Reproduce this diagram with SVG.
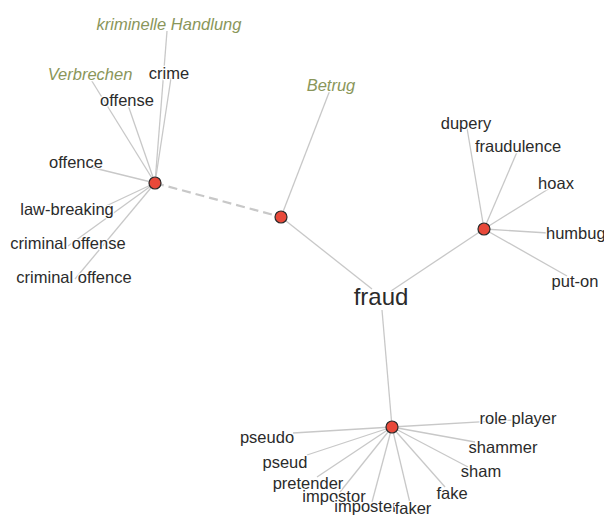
<svg xmlns="http://www.w3.org/2000/svg" width="604" height="516" viewBox="0 0 604 516">
<style>
.e{stroke:#c8c8c8;stroke-width:1.3;fill:none}
.d{stroke:#c8c8c8;stroke-width:2.2;stroke-dasharray:9,5;fill:none}
.n{fill:#e8493a;stroke:#2a2a2a;stroke-width:1.2}
text{font-family:"Liberation Sans",Arial,sans-serif;font-size:16.5px;fill:#2b2b2b;paint-order:stroke;stroke:#fff;stroke-width:2.5px;stroke-linejoin:round}
.de{fill:#8a965a;font-style:italic}
.c{text-anchor:middle}
.root{font-size:24px}
</style>
<rect width="604" height="516" fill="#fff"/>
<g id="edges">
<line class="e" x1="155" y1="183" x2="167" y2="31"/>
<line class="e" x1="155" y1="183" x2="171" y2="78"/>
<line class="e" x1="155" y1="183" x2="90" y2="78"/>
<line class="e" x1="155" y1="183" x2="128" y2="105"/>
<line class="e" x1="155" y1="183" x2="90" y2="167"/>
<line class="e" x1="155" y1="183" x2="106" y2="206"/>
<line class="e" x1="155" y1="183" x2="68" y2="246"/>
<line class="e" x1="155" y1="183" x2="75" y2="279"/>
<line class="d" x1="155" y1="183" x2="281" y2="217"/>
<line class="e" x1="281" y1="217" x2="330" y2="90"/>
<line class="e" x1="281" y1="217" x2="372" y2="289"/>
<line class="e" x1="484" y1="229" x2="391" y2="291"/>
<line class="e" x1="484" y1="229" x2="467" y2="128"/>
<line class="e" x1="484" y1="229" x2="517" y2="152"/>
<line class="e" x1="484" y1="229" x2="550" y2="188"/>
<line class="e" x1="484" y1="229" x2="548" y2="233"/>
<line class="e" x1="484" y1="229" x2="567" y2="276"/>
<line class="e" x1="382" y1="310" x2="392" y2="427"/>
<line class="e" x1="392" y1="427" x2="513" y2="420"/>
<line class="e" x1="392" y1="427" x2="475" y2="442"/>
<line class="e" x1="392" y1="427" x2="468" y2="467"/>
<line class="e" x1="392" y1="427" x2="445" y2="487"/>
<line class="e" x1="392" y1="427" x2="410" y2="503"/>
<line class="e" x1="392" y1="427" x2="372" y2="502"/>
<line class="e" x1="392" y1="427" x2="340" y2="492"/>
<line class="e" x1="392" y1="427" x2="317" y2="477"/>
<line class="e" x1="392" y1="427" x2="307" y2="455"/>
<line class="e" x1="392" y1="427" x2="293" y2="433"/>
</g>
<g id="fraud"><text class="c root" x="381" y="305">fraud</text></g>
<g id="n1"><circle class="n" cx="155" cy="183" r="6"/></g>
<g id="n2"><circle class="n" cx="281" cy="217" r="6"/></g>
<g id="n3"><circle class="n" cx="484" cy="229" r="6"/></g>
<g id="n4"><circle class="n" cx="392" cy="427" r="6"/></g>
<g id="l-kriminelle"><text class="c de" x="169" y="30">kriminelle Handlung</text></g>
<g id="l-crime"><text class="c" x="169" y="79">crime</text></g>
<g id="l-verbrechen"><text class="c de" x="90" y="80">Verbrechen</text></g>
<g id="l-offense"><text class="c" x="127" y="106">offense</text></g>
<g id="l-offence"><text class="c" x="76" y="168">offence</text></g>
<g id="l-lawbreaking"><text class="c" x="67" y="215">law-breaking</text></g>
<g id="l-criminaloffense"><text class="c" x="68" y="249">criminal offense</text></g>
<g id="l-criminaloffence"><text class="c" x="74" y="283">criminal offence</text></g>
<g id="l-betrug"><text class="c de" x="331" y="91">Betrug</text></g>
<g id="l-dupery"><text class="c" x="466" y="129">dupery</text></g>
<g id="l-fraudulence"><text class="c" x="518" y="152">fraudulence</text></g>
<g id="l-hoax"><text class="c" x="556" y="189">hoax</text></g>
<g id="l-humbug"><text x="546" y="239">humbug</text></g>
<g id="l-puton"><text class="c" x="575" y="287">put-on</text></g>
<g id="l-roleplayer"><text class="c" x="518" y="424">role player</text></g>
<g id="l-shammer"><text class="c" x="503" y="453">shammer</text></g>
<g id="l-sham"><text class="c" x="481" y="477">sham</text></g>
<g id="l-fake"><text class="c" x="452" y="499">fake</text></g>
<g id="l-pretender"><text class="c" x="308" y="489">pretender</text></g>
<g id="l-impostor"><text class="c" x="334" y="502">impostor</text></g>
<g id="l-imposter"><text class="c" x="366" y="512">imposter</text></g>
<g id="l-faker"><text class="c" x="413" y="514">faker</text></g>
<g id="l-pseud"><text class="c" x="285" y="468">pseud</text></g>
<g id="l-pseudo"><text class="c" x="267" y="443">pseudo</text></g>
</svg>
